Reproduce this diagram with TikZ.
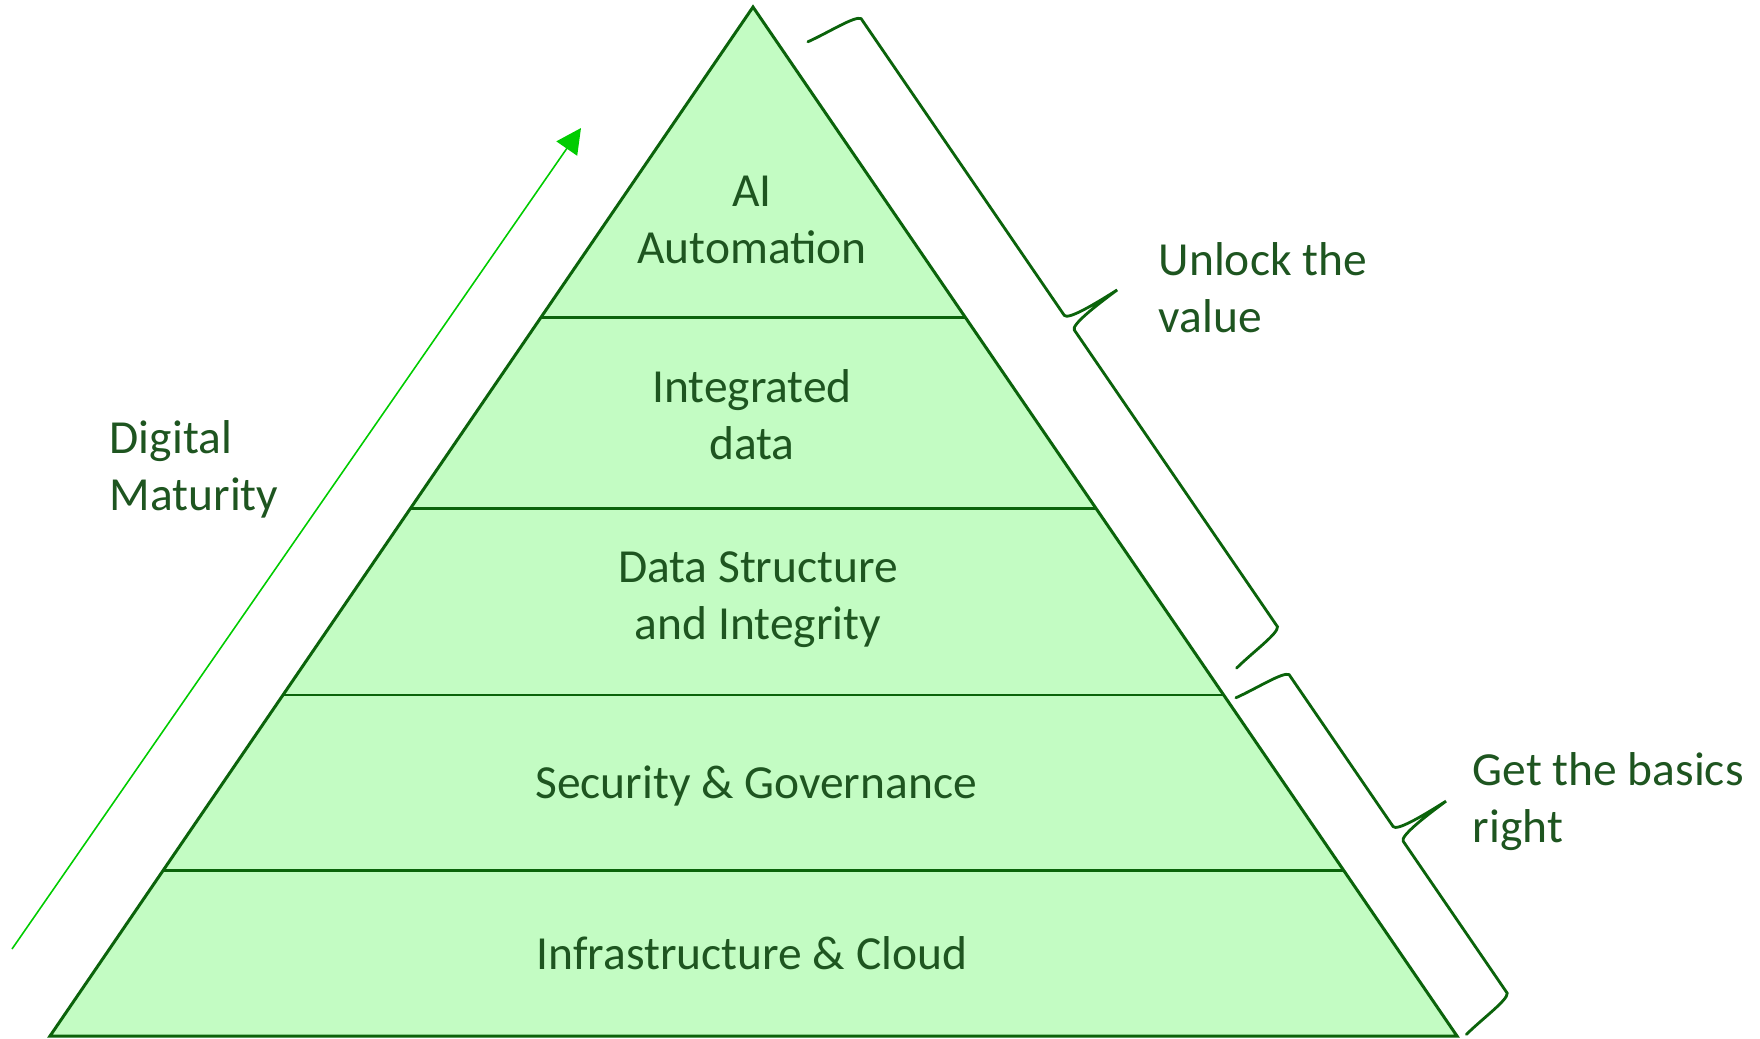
\documentclass[tikz,border=0pt]{standalone}
\usepackage{fontspec}
\setmainfont{Carlito}
\usepackage{xcolor}
\usepackage{tikz}
\usetikzlibrary{calc,arrows.meta}

\definecolor{pyrfill}{HTML}{C3FCC3}
\definecolor{pyrline}{HTML}{0B630B}
\definecolor{pyrtext}{HTML}{1E5520}
\definecolor{arrowgreen}{HTML}{00CC00}

% curly bracket along the right side of the pyramid
\newcommand{\sidebrace}[2]{%
  \begin{scope}[shift={(#1)}, rotate=-55.6]
    \draw[bracket] (-9,-57) .. controls (-5,-35) and (-4,-3) .. (2,0)
      -- ({#2/2-9},0) .. controls ({#2/2-3},0) and ({#2/2-1},30) .. ({#2/2},58)
      .. controls ({#2/2+1},30) and ({#2/2+3},0) .. ({#2/2+9},0)
      -- ({#2-2},0) .. controls ({#2+4},-3) and ({#2+5},-35) .. ({#2+9},-57);
  \end{scope}}

\begin{document}
\begin{tikzpicture}[x=0.01cm, y=0.01cm, font=\fontsize{13.5}{16.2}\selectfont]

	\tikzstyle{layer}=[draw=pyrline, line width=0.85pt]
	\tikzstyle{tier}=[text=pyrtext, align=center]
	\tikzstyle{side}=[text=pyrtext, align=left, anchor=west, inner sep=0pt]
	\tikzstyle{bracket}=[draw=pyrline, line width=0.8pt, line cap=round]
	\tikzstyle{maturity}=[draw=arrowgreen, line width=0.45pt, -{Triangle[length=0.25cm,width=0.25cm]}]
	\useasboundingbox (0,0) rectangle (1760,-1038);

	% the pyramid
	\coordinate (apex) at (753,-7);
	\coordinate (bl) at (50,-1036);
	\coordinate (br) at (1457,-1036);
	\filldraw[fill=pyrfill, draw=pyrline, line width=0.85pt] (apex) -- (bl) -- (br) -- cycle;
	\draw[layer] ($(apex)!0.3013!(bl)$) -- ($(apex)!0.3013!(br)$);
	\draw[layer] ($(apex)!0.4878!(bl)$) -- ($(apex)!0.4878!(br)$);
	\draw[layer] ($(apex)!0.6686!(bl)$) -- ($(apex)!0.6686!(br)$);
	\draw[layer] ($(apex)!0.8395!(bl)$) -- ($(apex)!0.8395!(br)$);

	% tiers, top to bottom
	\node[tier] (ai) at (752,-220) {AI\\Automation};
	\node[tier] (integ) at (752,-415) {Integrated\\data};
	\node[tier] (struct) at (758,-600) {Data Structure\\and Integrity};
	\node[tier] (secur) at (756,-786) {Security \& Governance};
	\node[tier] (infra) at (752,-953) {Infrastructure \& Cloud};

	% digital maturity
	\coordinate (mlow) at (12,-949);
	\coordinate (mhigh) at (581,-128);
	\draw[maturity] (mlow) -- (mhigh);
	\node[side] (digital) at (109,-469) {Digital\\Maturity};

	% brackets on the right
	\coordinate (topcorner) at (860,-17);
	\coordinate (lowcorner) at (1288,-673);
	\sidebrace{topcorner}{741}
	\sidebrace{lowcorner}{390}
	\node[side] (unlock) at (1158,-288) {Unlock the\\value};
	\node[side] (basics) at (1472,-802) {Get the basics\\right};

\end{tikzpicture}
\end{document}
